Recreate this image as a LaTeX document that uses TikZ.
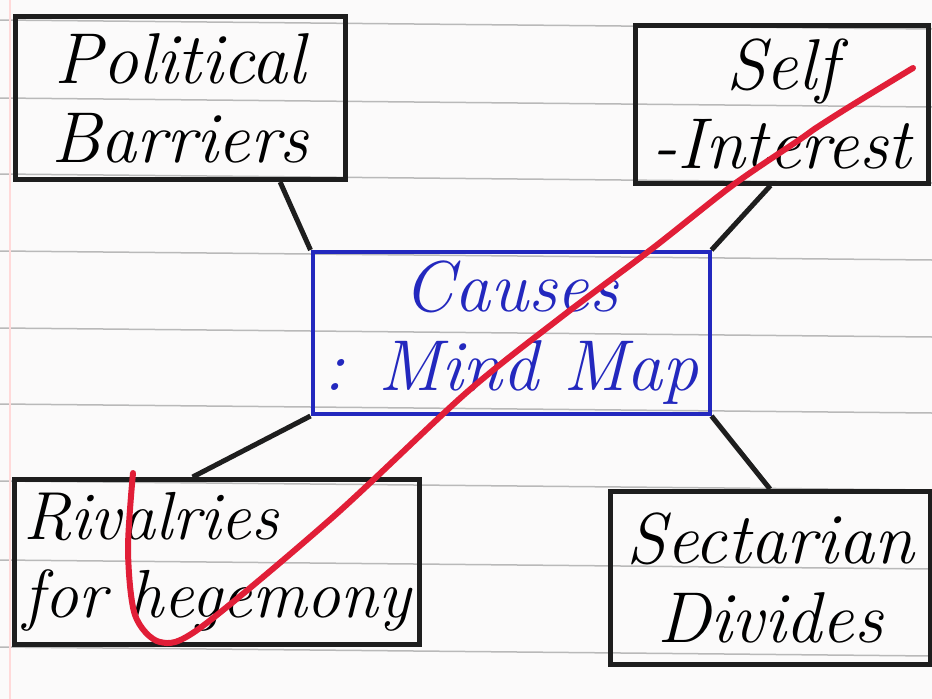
\documentclass[tikz,border=0pt]{standalone}
\usetikzlibrary{positioning}
\definecolor{inkblue}{RGB}{35,40,190}
\definecolor{inkred}{RGB}{225,30,55}
\definecolor{inkblack}{RGB}{30,30,30}
\definecolor{paper}{RGB}{251,250,250}
\newcommand\handfont{\fontsize{72}{79}\selectfont\itshape}
\tikzstyle{box}=[rectangle,inner sep=2pt,draw=inkblack,line width=5pt,text=black,font=\handfont]
\tikzstyle{cause}=[box,align=center]
\tikzstyle{hub}=[box,draw=inkblue,text=inkblue,line width=4pt,align=center]
\tikzstyle{link}=[draw=inkblack,line width=5pt]
\tikzstyle{ruling}=[draw=gray!55,line width=1.5pt]
\tikzstyle{margin}=[draw=pink!60,line width=2pt]
\tikzstyle{tick}=[draw=inkred,line width=6pt,line cap=round,line join=round]

\begin{document}
\begin{tikzpicture}[x=1pt,y=-1pt]

\fill[paper] (0,0) rectangle (932,699);
\useasboundingbox (0,0) rectangle (932,699);
\foreach \y in {20,98,174,251,328,404,481,560,647}
  \draw[ruling] (0,\y) -- (932,\y+9);
\draw[margin] (10,0) -- (10,699);

\node (pb) [cause,minimum width=330pt,minimum height=163pt] at (180,98) {Political\\Barriers};
\node (si) [cause,minimum width=293pt,minimum height=158pt] at (782,104) {Self\\-Interest};
\node (cm) [hub,minimum width=397pt,minimum height=162pt] at (511,333) {Causes\\: Mind Map};
\node (rv) [box,align=left,minimum width=405pt,minimum height=165pt,font=\fontsize{68}{78}\selectfont\itshape] at (217,562) {Rivalries\\for hegemony};
\node (sd) [cause,minimum width=320pt,minimum height=173pt] at (770,578) {Sectarian\\Divides};

\draw[link] (pb.-40) -- (cm.north west);
\draw[link] (si.-98) -- (cm.north east);
\draw[link] (cm.south west) -- (rv.106);
\draw[link] (cm.south east) -- (sd.north);

\draw[tick] plot[smooth,tension=0.5] coordinates {(133,473) (128,550) (135,615) (160,642) (200,628) (333,517) (466,393) (560,318) (653,248) (733,185) (799,140) (816,128) (849,107) (913,68)};

\end{tikzpicture}
\end{document}
